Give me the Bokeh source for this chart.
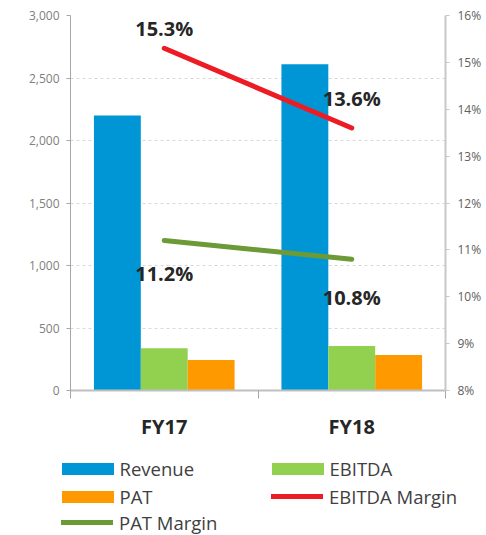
from bokeh.plotting import figure
from bokeh.layouts import column
from bokeh.models import (Range1d, LinearAxis, FixedTicker, NumeralTickFormatter,
                          PrintfTickFormatter, ColumnDataSource, Legend, LegendItem, LabelSet)
from bokeh.transform import dodge
from bokeh.core.properties import value
from bokeh.embed import file_html
from bokeh.resources import INLINE

# ---- data ----
categories = ["FY17", "FY18"]
revenue = [2200, 2610]
ebitda = [338, 357]
pat = [245, 285]
ebitda_margin = [15.3, 13.6]
pat_margin = [11.2, 10.8]
left_ticks = [0, 500, 1000, 1500, 2000, 2500, 3000]
right_ticks = [8, 9, 10, 11, 12, 13, 14, 15, 16]
series_names = ["Revenue", "EBITDA", "PAT", "EBITDA Margin", "PAT Margin"]

# ---- styles ----
C_REV = "#0096d6"
C_EBITDA = "#92d050"
C_PAT = "#ff9900"
C_EM = "#ed1c24"
C_PM = "#6b9a37"
FONT = "Open Sans"
em_label_offsets = [20, 30]
pm_label_offsets = [-33, -38]
# legend grid: (column x of swatch start, row centre measured from legend-panel bottom)
legend_cols = [61, 271]
legend_rows = [67, 39, 13]

xpos = [i + 0.5 for i in range(len(categories))]
src = ColumnDataSource(dict(
    x=xpos, cat=categories, revenue=revenue, ebitda=ebitda, pat=pat,
    em=ebitda_margin, pm=pat_margin,
    em_lbl=[f"{v:.1f}%" for v in ebitda_margin],
    pm_lbl=[f"{v:.1f}%" for v in pat_margin],
    em_off=em_label_offsets, pm_off=pm_label_offsets,
))

p = figure(width=486, height=445, x_range=Range1d(0, len(categories)),
           y_range=Range1d(0, 3000), output_backend="svg", toolbar_location=None,
           min_border_left=70, min_border_right=41, min_border_top=15,
           min_border_bottom=55, x_axis_location=None, y_axis_location=None)
p.outline_line_color = None
p.background_fill_color = "white"
p.border_fill_color = "white"
p.extra_y_ranges = {"pct": Range1d(right_ticks[0], right_ticks[-1])}

# x axis
xaxis = LinearAxis(ticker=FixedTicker(ticks=xpos, minor_ticks=list(range(len(categories) + 1))),
                   major_label_overrides={x: c for x, c in zip(xpos, categories)})
xaxis.axis_line_color = "#bfbfbf"
xaxis.axis_line_width = 2
xaxis.major_tick_out = 0
xaxis.major_tick_in = 0
xaxis.minor_tick_out = 8
xaxis.minor_tick_in = 0
xaxis.minor_tick_line_color = "#a6a6a6"
xaxis.major_label_standoff = 14
xaxis.major_label_text_font = FONT
xaxis.major_label_text_font_size = "20px"
xaxis.major_label_text_font_style = "bold"
xaxis.major_label_text_color = "#262626"
p.add_layout(xaxis, "below")

# left axis
yaxis = LinearAxis(ticker=FixedTicker(ticks=left_ticks), formatter=NumeralTickFormatter(format="0,0"))
yaxis.axis_line_color = "#a6a6a6"
yaxis.major_tick_out = 4
yaxis.major_tick_in = 0
yaxis.major_tick_line_color = "#a6a6a6"
yaxis.minor_tick_line_color = None
yaxis.major_label_standoff = 7
yaxis.major_label_text_font = FONT
yaxis.major_label_text_font_size = "12px"
yaxis.major_label_text_color = "#808080"
p.add_layout(yaxis, "left")

# right axis
raxis = LinearAxis(y_range_name="pct", ticker=FixedTicker(ticks=right_ticks),
                   formatter=PrintfTickFormatter(format="%d%%"))
raxis.axis_line_color = "#c8c8c8"
raxis.axis_line_width = 2
raxis.major_tick_out = 4
raxis.major_tick_in = 0
raxis.major_tick_line_color = "#c8c8c8"
raxis.minor_tick_line_color = None
raxis.major_label_standoff = 8
raxis.major_label_text_font = FONT
raxis.major_label_text_font_size = "12px"
raxis.major_label_text_color = "#606060"
p.add_layout(raxis, "right")

p.xgrid.visible = False
p.ygrid.ticker = FixedTicker(ticks=left_ticks)
p.ygrid.grid_line_color = "#d9d9d9"
p.ygrid.grid_line_dash = "3 3"

bw = 0.25
bar_specs = [("revenue", -bw, C_REV), ("ebitda", 0, C_EBITDA), ("pat", bw, C_PAT)]
for col, off, color in bar_specs:
    p.vbar(x=dodge("x", off, range=p.x_range), top=col, width=bw, source=src,
           fill_color=color, line_color=None)
line_specs = [("em", C_EM), ("pm", C_PM)]
for col, color in line_specs:
    p.line(x="x", y=col, source=src, y_range_name="pct", line_color=color,
           line_width=5, line_cap="round")

for col, off, ycol in (("em_lbl", "em_off", "em"), ("pm_lbl", "pm_off", "pm")):
    p.add_layout(LabelSet(x="x", y=ycol, text=col, y_offset=off, source=src,
                          y_range_name="pct", text_align="center", text_baseline="middle",
                          text_font=value(FONT), text_font_size="20px",
                          text_font_style="bold", text_color="#262626"))

# ---- legend panel (separate figure; its ranges keep the marks far out of view) ----
lg = figure(width=486, height=90, x_range=Range1d(1000, 1001), y_range=Range1d(100000, 100001),
            output_backend="svg", toolbar_location=None, min_border=0,
            x_axis_location=None, y_axis_location=None)
lg.outline_line_color = None
lg.xgrid.visible = False
lg.ygrid.visible = False
lg.background_fill_color = "white"
lg.border_fill_color = "white"
aligned = True
if "frame_align" in lg.properties():
    lg.frame_align = False
    p.frame_align = False
    aligned = False
x_shift = -70 if aligned else 0

l_rend = []
for col, off, color in bar_specs:
    l_rend.append(("bar", lg.vbar(x="x", top=col, width=bw, source=src,
                                  fill_color=color, line_color=None)))
for col, color in line_specs:
    l_rend.append(("line", lg.line(x="x", y=col, source=src, line_color=color,
                                   line_width=5, line_cap="round")))

ITEM_H = 26
for i, (name, (kind, rend)) in enumerate(zip(series_names, l_rend)):
    cx = legend_cols[i % 2]
    cy = legend_rows[i // 2]
    if kind == "bar":
        gw, gh, so = 65, 15, 0
        lx = cx - 6.5
    else:
        gw, gh, so = 52, 12, 6
        lx = cx
    lgd = Legend(items=[LegendItem(label=name, renderers=[rend])],
                 location=(lx + x_shift, cy - ITEM_H / 2))
    lgd.border_line_color = None
    lgd.background_fill_alpha = 0
    lgd.padding = 0
    lgd.margin = 0
    lgd.glyph_width = gw
    lgd.glyph_height = gh
    lgd.label_standoff = so
    lgd.label_height = ITEM_H
    lgd.spacing = 0
    lgd.label_text_font = FONT
    lgd.label_text_font_size = "18.5px"
    lgd.label_text_color = "#404040"
    lg.add_layout(lgd, "center")

layout = column(p, lg, spacing=0)
open("out.html", "w").write(file_html(layout, INLINE))
